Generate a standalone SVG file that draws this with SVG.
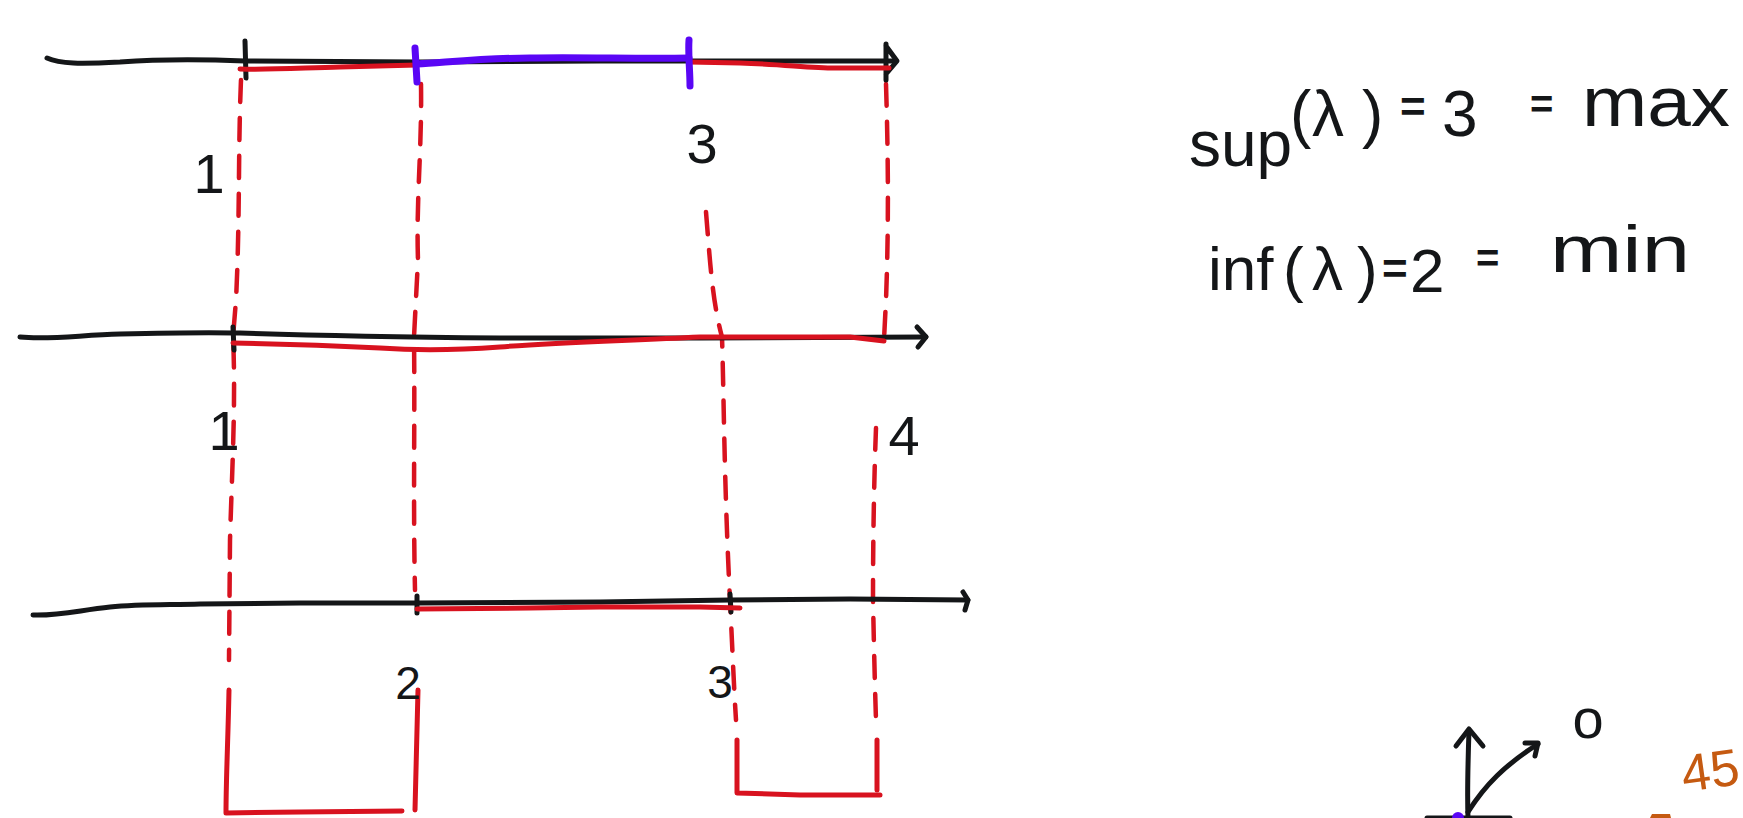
<svg xmlns="http://www.w3.org/2000/svg" width="1743" height="818" viewBox="0 0 1743 818">
<style>
.k{fill:none;stroke:#141618;stroke-width:5;stroke-linecap:round;stroke-linejoin:round}
.r{fill:none;stroke:#d8121f;stroke-width:5;stroke-linecap:round;stroke-linejoin:round}
.d{fill:none;stroke:#d8121f;stroke-width:4.5;stroke-linecap:round;stroke-dasharray:22 16}
.b{fill:none;stroke:#5a06f5;stroke-width:7;stroke-linecap:round;stroke-linejoin:round}
.t{font-family:"Liberation Sans",Arial,sans-serif;fill:#141618}
.eq{font-weight:bold}
</style>
<rect width="1743" height="818" fill="#ffffff"/>
<g id="connectors">
<path class="d" d="M241,80 C238,150 240,220 236,300 L233,337 C236,400 232,470 230,540 L229,660"/>
<path class="r" d="M229,690 C228,740 226,780 226,813 L300,812 L402,811"/>
<path class="d" d="M421,84 C422,150 416,200 418,260 L414,337 C415,420 413,500 415,590"/>
<path class="r" d="M418,690 C417,740 416,780 415,810"/>
<path class="d" d="M706,212 C710,260 712,300 722,337 C724,400 724,480 730,600 C732,640 734,690 736,720"/>
<path class="r" d="M737,740 L737,793 L800,795 L880,795"/>
<path class="d" d="M886,84 C888,150 889,220 886,300 L884,340"/>
<path class="d" d="M876,428 C874,480 873,540 873,600 C874,650 875,690 876,720"/>
<path class="r" d="M877,740 L877,790"/>
</g>
<g id="axis-top">
<path class="k" d="M47,58 C60,64 80,64 120,62 C160,59 200,59 245,61 L420,62 L600,61 L700,61 L895,61"/>
<path class="k" d="M886,46 L897,61 L886,74 M886,44 L886,80"/>
<path class="k" d="M245,41 L246,78"/>
<path class="r" d="M240,69 C270,70 300,68 340,67 L417,65"/>
<path class="r" d="M689,62 L740,63 C780,64 810,68 835,68 L889,68"/>
<path class="b" d="M417,64 C450,62 490,58 530,58 C580,57 640,59 689,58"/>
<path class="b" d="M415,48 L417,82 M689,40 C688,55 690,70 690,86"/>
<text class="t" x="209" y="193" font-size="56" text-anchor="middle">1</text>
<text class="t" x="702" y="163" font-size="56" text-anchor="middle">3</text>
</g>
<g id="axis-middle">
<path class="k" d="M20,337 C50,340 80,335 120,334 C160,333 200,332 240,333 C300,335 400,337 500,338 L700,338 L926,337"/>
<path class="k" d="M917,327 L926,337 L918,347"/>
<path class="k" d="M233,327 L234,350"/>
<path class="r" d="M233,343 C290,344 340,346 380,348 C420,351 460,350 500,347 C560,342 620,341 700,337 L850,337 L884,341"/>
<text class="t" x="224" y="450" font-size="56" text-anchor="middle">1</text>
<text class="t" x="904" y="455" font-size="56" text-anchor="middle">4</text>
</g>
<g id="axis-bottom">
<path class="k" d="M33,615 C60,616 80,610 110,607 C140,604 170,605 200,604 L300,603 L417,603 L600,602 L730,600 L850,599 L968,600"/>
<path class="k" d="M963,592 L968,600 L965,610"/>
<path class="k" d="M417,596 L417,613 M730,594 L731,612"/>
<path class="r" d="M417,609 L530,608 L600,607 L700,607 L740,608"/>
<text class="t" x="408" y="699" font-size="46" text-anchor="middle">2</text>
<text class="t" x="720" y="698" font-size="46" text-anchor="middle">3</text>
</g>
<g id="formula-sup">
<text class="t" font-size="64"><tspan x="1189" y="166">sup</tspan><tspan x="1290" y="136">(</tspan><tspan x="1312" y="136">λ</tspan><tspan x="1362" y="136">)</tspan><tspan class="eq" x="1400" y="122" font-size="44">=</tspan><tspan x="1442" y="136">3</tspan><tspan class="eq" x="1530" y="118" font-size="40">=</tspan><tspan x="1582" y="126" font-size="70" textLength="148" lengthAdjust="spacingAndGlyphs">max</tspan></text>
</g>
<g id="formula-inf">
<text class="t" font-size="62"><tspan x="1208" y="290">inf</tspan><tspan x="1283" y="290">(</tspan><tspan x="1312" y="290">λ</tspan><tspan x="1357" y="290">)</tspan><tspan class="eq" x="1382" y="284" font-size="44">=</tspan><tspan x="1410" y="292">2</tspan><tspan class="eq" x="1476" y="272" font-size="40">=</tspan><tspan x="1550" y="272" font-size="66" textLength="140" lengthAdjust="spacingAndGlyphs">min</tspan></text>
</g>
<g id="vectors">
<path class="k" d="M1468,818 C1467,790 1468,760 1469,730"/>
<path class="k" d="M1456,746 L1469,729 L1483,746"/>
<path class="k" d="M1468,812 C1485,785 1505,765 1538,744"/>
<path class="k" d="M1525,743 L1538,743 L1535,756"/>
<text class="t" x="1588" y="738" font-size="56" text-anchor="middle">o</text>
<path class="k" d="M1427,818 L1510,818"/>
<circle cx="1458" cy="818" r="6" fill="#5a06f5"/>
<path d="M1650,818 L1652,814 L1670,814 L1671,818 Z" fill="#c55a11"/>
<text x="1684" y="792" font-size="52" font-family="'Liberation Sans',Arial,sans-serif" fill="#c55a11" transform="rotate(-8 1684 792)">45</text>
</g>
</svg>
